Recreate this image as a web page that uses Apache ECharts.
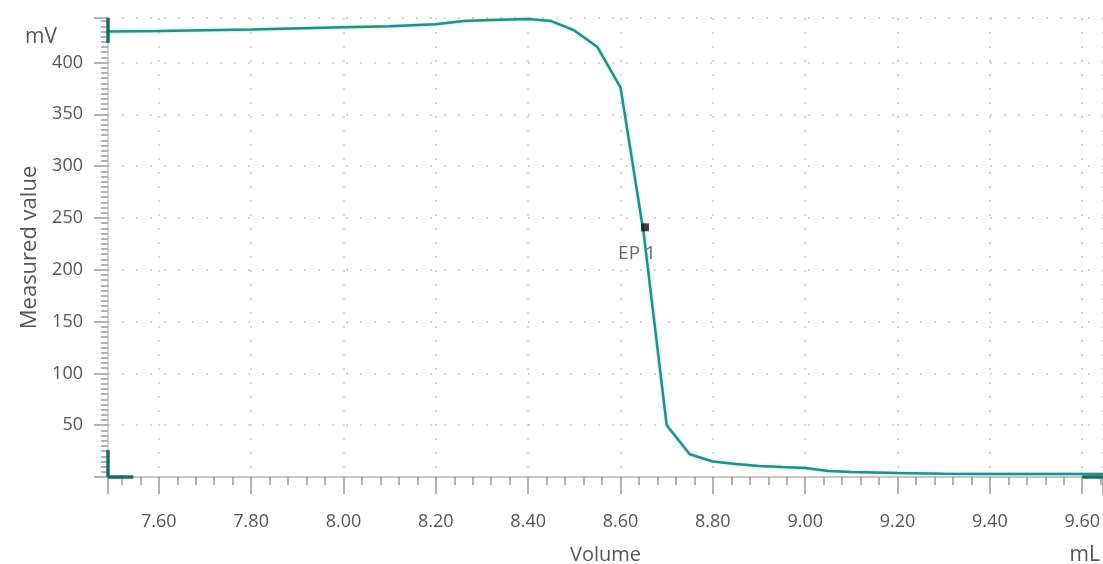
<!DOCTYPE html>
<html>
<head>
<meta charset="utf-8">
<title>Titration curve</title>
<script src="https://cdn.jsdelivr.net/npm/echarts@6/dist/echarts.min.js"></script>
<style>
  html, body { margin: 0; padding: 0; background: #fff; }
  #chart { width: 1103px; height: 564px; }
</style>
</head>
<body>
<div id="chart"></div>
<script>
var volume = [7.49, 7.60, 7.80, 8.00, 8.10, 8.20, 8.26, 8.32, 8.40, 8.45, 8.50, 8.55, 8.60, 8.65, 8.70, 8.75, 8.80, 8.85, 8.90, 8.95, 9.00, 9.05, 9.10, 9.20, 9.30, 9.40, 9.50, 9.60, 9.645];
var measured = [430, 430.5, 432, 434, 435, 437, 440, 441, 442, 440, 431, 415, 376, 236, 50, 22, 15, 12.5, 10.6, 9.6, 8.7, 5.8, 4.8, 3.9, 3.2, 3, 3, 3, 3];
// end point
var epVolume = [8.653];
var epValue = [241];
var epNames = ["EP 1"];

var teal = "#2a8c83";
var darkTeal = "#1c6a61";

var curve = volume.map(function (v, i) { return [v, measured[i]]; });
var ep = epVolume.map(function (v, i) { return { value: [v, epValue[i]], name: epNames[i] }; });

var chart = echarts.init(document.getElementById("chart"));
chart.setOption({
  animation: false,
  grid: { left: 108, right: 0, top: 18, bottom: 87, outerBoundsMode: "none", containLabel: false },
  textStyle: { fontFamily: "Open Sans" },
  xAxis: [
    {
      type: "value",
      min: 7.49,
      max: 9.645,
      splitNumber: 10,
      name: "Volume",
      nameLocation: "middle",
      nameGap: 68,
      nameTextStyle: { color: "#555", fontSize: 20 },
      axisLine: { show: true, onZero: false, lineStyle: { color: "#b5b5b5", width: 1.5 } },
      axisTick: { show: true, length: 17, lineStyle: { color: "#999", width: 1.5 } },
      minorTick: { show: true, splitNumber: 5, length: 8, lineStyle: { color: "#999", width: 1.5 } },
      axisLabel: {
        color: "#555", fontSize: 18, margin: 36,
        showMinLabel: false, showMaxLabel: false,
        formatter: function (v) { return v.toFixed(2); }
      },
      splitLine: { show: true, lineStyle: { color: "#c8c8c8", width: 1.5, type: [2, 12] } }
    },
    {
      type: "value",
      position: "top",
      min: 7.49,
      max: 9.645,
      axisLine: { show: true, lineStyle: { color: "#c8c8c8", width: 1.5 } },
      axisTick: { show: false },
      axisLabel: { show: false },
      splitLine: { show: false }
    }
  ],
  yAxis: {
    type: "value",
    min: 0,
    max: 443,
    interval: 50,
    name: "Measured value",
    nameLocation: "middle",
    nameGap: 60,
    nameTextStyle: { color: "#555", fontSize: 22 },
    axisLine: { show: true, lineStyle: { color: "#c8c8c8", width: 1.5 } },
    axisTick: { show: true, length: 14, lineStyle: { color: "#999", width: 1.5 } },
    minorTick: { show: true, splitNumber: 10, length: 7, lineStyle: { color: "#999", width: 1.5 } },
    axisLabel: { color: "#555", fontSize: 18, margin: 25, showMinLabel: false, showMaxLabel: false },
    splitLine: { show: true, lineStyle: { color: "#c8c8c8", width: 1.5, type: [2, 12] } }
  },
  graphic: [
    { type: "text", left: 25, top: 27, style: { text: "mV", fill: "#555", font: "21px 'Open Sans'" } },
    { type: "text", right: 3, top: 545, style: { text: "mL", fill: "#555", font: "21px 'Open Sans'" } }
  ],
  series: [
    {
      name: "Measured value",
      type: "line",
      data: curve,
      symbol: "none",
      clip: false,
      lineStyle: { color: teal, width: 2.5, shadowColor: "rgba(90,220,220,0.6)", shadowBlur: 3 },
      // range brackets at the plot edges
      markLine: {
        silent: true,
        symbol: "none",
        label: { show: false },
        lineStyle: { color: darkTeal, width: 3.5, type: "solid" },
        data: [
          [{ coord: [7.49, 443] }, { coord: [7.49, 419] }],
          [{ coord: [7.49, 26] }, { coord: [7.49, 0] }],
          [{ coord: [7.49, 0] }, { coord: [7.545, 0] }],
          [{ coord: [9.60, 0] }, { coord: [9.645, 0] }]
        ]
      }
    },
    {
      name: "EP",
      type: "scatter",
      data: ep,
      symbol: "rect",
      symbolSize: 8,
      itemStyle: { color: "#111" },
      label: {
        show: true,
        position: "bottom",
        offset: [-8, 8],
        formatter: "{b}",
        color: "#444",
        fontSize: 19
      },
      z: 5
    }
  ]
});
</script>
</body>
</html>
